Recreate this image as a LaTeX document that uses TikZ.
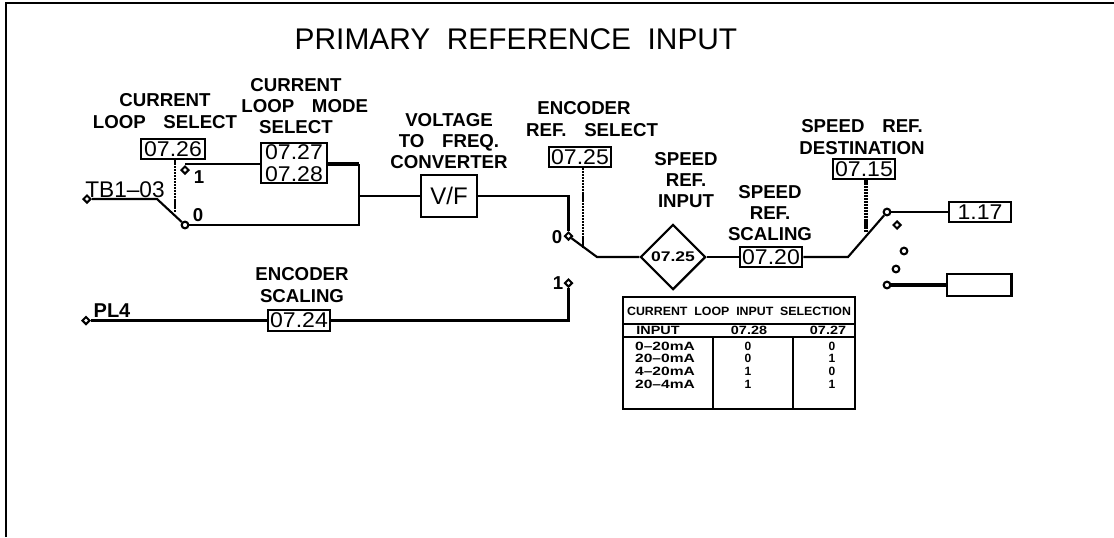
\documentclass[tikz,border=0pt]{standalone}
\usepackage{fontspec}
\usepackage{graphicx}
\setmainfont{Liberation Sans}
\usetikzlibrary{shapes.geometric}
\newcommand{\wsp}{\hspace{0.95em}}
\newcommand{\pv}[1]{\scalebox{1.08}[1]{#1}}
\tikzset{
  x=0.75pt,y=-0.75pt,
  wire/.style={line width=1.6pt,black},
  thick wire/.style={line width=2.6pt,black},
  link/.style={line width=1.2pt,dash pattern=on 1.6pt off 0.6pt,black},
  parbox/.style={draw,line width=1.6pt,inner sep=0pt,font=\fontsize{16}{15}\selectfont,align=center},
  lab/.style={inner sep=0pt,align=center,font=\fontsize{14}{16}\selectfont\bfseries},
  lbl/.style={inner sep=0pt,align=center,font=\fontsize{14}{16}\selectfont},
  tiny/.style={inner sep=0pt,font=\fontsize{9}{9}\selectfont\bfseries},
  term/.style={draw,diamond,line width=1.5pt,minimum size=6pt,inner sep=0pt,fill=white},
  dot/.style={draw,circle,line width=1.6pt,minimum size=5pt,inner sep=0pt,fill=white},
}
\begin{document}
\begin{tikzpicture}
\useasboundingbox (0,0) rectangle (1114,537);
\fill[white] (0,0) rectangle (1114,537);
\coordinate (tl) at (6,3);
\coordinate (bl) at (6,537);
\coordinate (tr) at (1114,3);
\draw[line width=1.5pt] (bl) -- (tl) -- (tr);
\node[inner sep=0pt,font=\fontsize{22.4}{24}\selectfont] (title) at (516,39) {PRIMARY\ \ REFERENCE\ \ INPUT};

% labels
\node[lab] (l1) at (165,111) {CURRENT\\LOOP\wsp SELECT};
\node[lab] (l2) at (296,106) {CURRENT\\\hspace*{13pt}LOOP\wsp MODE\\SELECT};
\node[lab] (l3) at (449,141) {VOLTAGE\\TO\wsp FREQ.\\CONVERTER};
\node[lab] (l4) at (584,119) {ENCODER\\\hspace*{12pt}REF.\wsp SELECT};
\node[lab] (l5) at (686,180) {SPEED\\REF.\\INPUT};
\node[lab] (l6) at (770,213) {SPEED\\REF.\\SCALING};
\node[lab] (l7) at (862,137) {SPEED\wsp REF.\\DESTINATION};
\node[lab] (l8) at (302,285) {ENCODER\\SCALING};

% parameter boxes
\node[parbox,minimum width=48pt,minimum height=15.5pt] (p26) at (173,149) {\pv{07.26}};
\node[parbox,minimum width=49pt,minimum height=30pt] (p27) at (294,163) {\pv{07.27}\\[1pt]\pv{07.28}};
\node[parbox,minimum width=42.5pt,minimum height=32pt,font=\fontsize{18}{18}\selectfont] (vf) at (449,196) {V/F};
\node[parbox,minimum width=46.5pt,minimum height=15pt] (p25) at (580,157) {\pv{07.25}};
\node[parbox,minimum width=47pt,minimum height=15pt] (p20) at (771,257) {\pv{07.20}};
\node[parbox,minimum width=46.5pt,minimum height=15.5pt] (p15) at (864,169) {\pv{07.15}};
\node[parbox,minimum width=46.5pt,minimum height=15.5pt] (p117) at (980,212) {\pv{1.17}};
\node[parbox,minimum width=47pt,minimum height=15.5pt] (p24) at (299,320.5) {\pv{07.24}};
\node[draw,line width=1.6pt,minimum width=47.5pt,minimum height=17pt,inner sep=0pt] (blank) at (979,285) {};
\draw[line width=2.6pt] (blank.north east) -- (blank.south east);
\node[draw,diamond,aspect=1,line width=1.6pt,minimum size=49pt,inner sep=0pt,font=\fontsize{10.5}{11}\selectfont\bfseries] (dm) at (673,257) {\scalebox{1.25}[1]{07.25}};

% terminals and contacts
\node[term] (tb) at (87,199) {};
\node[term] (pl) at (86,320.5) {};
\node[term] (c1) at (185,170) {};
\node[dot] (c0) at (185,225) {};
\node[term] (e0) at (568.5,236) {};
\node[term] (e1) at (568.5,283) {};
\node[dot] (s1) at (887,212) {};
\node[term] (s2) at (897,225) {};
\node[dot] (s3) at (904,251) {};
\node[dot] (s4) at (896,269) {};
\node[dot] (s5) at (887,285) {};

\node[lbl,font=\fontsize{17}{17}\selectfont] (ttb) at (125,190) {TB1–03};
\node[lbl,font=\fontsize{15}{15}\selectfont\bfseries] (tpl) at (112,311) {PL4};
\node[lab] (n1) at (199,177) {1};
\node[lab] (n0) at (198,215) {0};
\node[lab] (m0) at (557,237) {0};
\node[lab] (m1) at (558,283) {1};

% helper points
\coordinate (j1) at (157,199);
\coordinate (a1) at (185,164);
\coordinate (n27) at (359,164);
\coordinate (n28) at (359,225);
\coordinate (n29) at (359,196);
\coordinate (v1) at (568.5,196);
\coordinate (arm) at (597,257);
\coordinate (sw1) at (848,257);
\coordinate (lnk1) at (583,248);
\coordinate (lnk2) at (866,233);
\coordinate (lnk3) at (175,213);
\coordinate (e2) at (568.5,320.5);

% wires
\draw[wire] (tb) -- (j1) -- (c0);
\draw[wire] (a1) -- (p27.west |- a1);
\draw[thick wire] (p27.east |- n27) -- (n27);
\draw[wire] (n27) -- (n28) -- (c0);
\draw[wire] (n29) -- (vf);
\draw[wire] (vf) -- (v1) -- (e0.north);
\draw[wire] (e0) -- (arm) -- (dm);
\draw[wire] (dm) -- (p20);
\draw[wire] (p20) -- (sw1) -- (s1);
\draw[wire] (s1) -- (p117);
\draw[thick wire] (s5) -- (blank);
\draw[wire] (pl) -- (p24);
\draw[wire] (p24) -- (e2) -- (e1);
\draw[link] (p26.south -| lnk3) -- (lnk3);
\draw[link] (p25.south -| lnk1) -- (lnk1);
\draw[link,line width=2.6pt] (p15.south -| lnk2) -- (lnk2);

% table
\node[draw,line width=1.6pt,minimum width=174pt,minimum height=84pt,inner sep=0pt] (tbl) at (739,353) {};
\coordinate (h1l) at (623,324); \coordinate (h1r) at (855,324);
\coordinate (h2l) at (623,337); \coordinate (h2r) at (855,337);
\coordinate (c1t) at (713,337); \coordinate (c1b) at (713,409);
\coordinate (c2t) at (793,337); \coordinate (c2b) at (793,409);
\draw[line width=1.3pt] (h1l) -- (h1r) (h2l) -- (h2r) (c1t) -- (c1b) (c2t) -- (c2b);
\node[tiny] (tt) at (739,311) {\scalebox{1.03}[1]{CURRENT\ \ LOOP\ \ INPUT\ \ SELECTION}};
\node[tiny] (h1) at (658,330.5) {\scalebox{1.2}[1]{INPUT}};
\node[tiny] (h2) at (749,330.5) {\scalebox{1.2}[1]{07.28}};
\node[tiny] (h3) at (828,330.5) {\scalebox{1.2}[1]{07.27}};
\node[tiny] (r1a) at (665,346) {\scalebox{1.3}[1]{0–20mA}};
\node[tiny] (r2a) at (665,358.5) {\scalebox{1.3}[1]{20–0mA}};
\node[tiny] (r3a) at (665,371) {\scalebox{1.3}[1]{4–20mA}};
\node[tiny] (r4a) at (665,384) {\scalebox{1.3}[1]{20–4mA}};
\foreach \n/\y/\u/\v in {1/346/0/0,2/358.5/0/1,3/371/1/0,4/384/1/1}{
  \node[tiny] (u\n) at (748,\y) {\u};
  \node[tiny] (v\n) at (832,\y) {\v};
}
\end{tikzpicture}
\end{document}
